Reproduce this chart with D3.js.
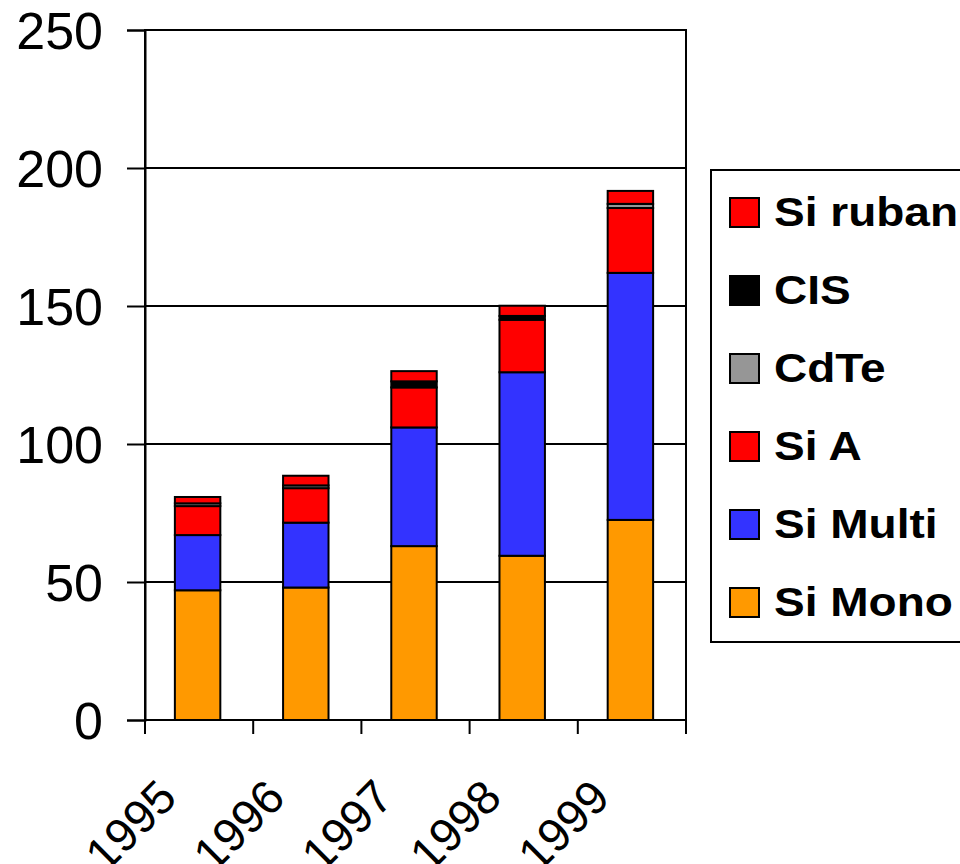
<!DOCTYPE html>
<html>
<head>
<meta charset="utf-8">
<script src="https://cdn.jsdelivr.net/npm/d3@7"></script>
<style>
  body { margin: 0; background: #fff; }
  text { font-family: "Liberation Sans", Arial, sans-serif; }
</style>
</head>
<body>
<script>
// values (MW per year)
var years   = ["1995", "1996", "1997", "1998", "1999"];
var siMono  = [47, 48, 63, 59.5, 72.5];
var siMulti = [20, 23.5, 43, 66.5, 89.5];
var siA     = [10.5, 12.5, 14.5, 19, 23.5];
var cdte    = [1, 1, 0, 0, 1.5];
var cis     = [0, 0, 2.2, 1.4, 0];
var siRuban = [2.3, 3.5, 3.7, 3.7, 4.7];
var yTicks  = [0, 50, 100, 150, 200, 250];

var keys   = ["Si Mono", "Si Multi", "Si A", "CdTe", "CIS", "Si ruban"];
var series = [siMono, siMulti, siA, cdte, cis, siRuban];
var colors = ["#ff9900", "#3333ff", "#ff0000", "#969696", "#000000", "#ff0000"];

// build rows for d3.stack
var rows = years.map(function(y, i) {
    var r = {year: y};
    keys.forEach(function(k, j) { r[k] = series[j][i]; });
    return r;
});

var margin = {top: 30, right: 274, bottom: 144, left: 145},
    width = 960 - margin.left - margin.right,
    height = 864 - margin.top - margin.bottom;

var svg = d3.select("body").append("svg")
    .attr("width", 960)
    .attr("height", 864);
var g = svg.append("g")
    .attr("transform", "translate(" + margin.left + "," + margin.top + ")");

var x = d3.scaleBand().domain(years).range([-1.5, width - 1.5]).paddingInner(0.58).paddingOuter(0.29);
var xb = d3.scaleBand().domain(years).range([0, width]); // for tick positions
var y = d3.scaleLinear().domain([0, 250]).range([height, 0]);

// gridlines
g.selectAll(".grid").data(yTicks.slice(1, 5)).enter().append("line")
    .attr("x1", 0).attr("x2", width)
    .attr("y1", function(d) { return y(d); })
    .attr("y2", function(d) { return y(d); })
    .style("stroke", "#000").style("stroke-width", 2);

// plot border
g.append("rect")
    .attr("x", 0).attr("y", 0)
    .attr("width", width).attr("height", height)
    .style("fill", "none").style("stroke", "#000").style("stroke-width", 2);

var stack = d3.stack().keys(keys)(rows);

g.selectAll(".layer").data(stack).enter().append("g")
    .style("fill", function(d, i) { return colors[i]; })
  .selectAll("rect").data(function(d) { return d; }).enter().append("rect")
    .attr("x", function(d) { return x(d.data.year); })
    .attr("width", x.bandwidth())
    .attr("y", function(d) { return y(d[1]); })
    .attr("height", function(d) { return y(d[0]) - y(d[1]); })
    .style("stroke", "#000").style("stroke-width", 2);

// y axis
var yAxis = g.append("g")
    .call(d3.axisLeft(y).tickValues(yTicks).tickSize(18).tickPadding(24));
yAxis.select(".domain").style("stroke-width", 2);
yAxis.selectAll(".tick line").style("stroke-width", 2);
yAxis.selectAll("text")
    .style("font-size", "52px")
    .style("font-family", "Liberation Sans, Arial, sans-serif")
    .attr("dy", "0.36em");

// x axis (ticks at category boundaries)
var bounds = years.map(function(d) { return xb(d); }).concat([width]);
g.append("line")
    .attr("x1", 0).attr("x2", width)
    .attr("y1", height).attr("y2", height)
    .style("stroke", "#000").style("stroke-width", 2);
g.selectAll(".xtick").data(bounds).enter().append("line")
    .attr("x1", function(d) { return d; }).attr("x2", function(d) { return d; })
    .attr("y1", height).attr("y2", height + 14)
    .style("stroke", "#000").style("stroke-width", 2);
g.selectAll(".xlab").data(years).enter().append("text")
    .attr("transform", function(d) {
        return "translate(" + (xb(d) + xb.bandwidth() / 2 - 20) + "," + (height + 80) + ") rotate(-45)";
    })
    .attr("text-anchor", "end")
    .style("font-size", "47px")
    .text(function(d) { return d; });

// legend
var legend = svg.append("g").attr("transform", "translate(711,170)");
legend.append("rect")
    .attr("x", 0).attr("y", 0).attr("width", 270).attr("height", 472)
    .style("fill", "#fff").style("stroke", "#000").style("stroke-width", 2);
var legendKeys = keys.slice().reverse();
var legendCols = colors.slice().reverse();
legendKeys.forEach(function(k, i) {
    var row = legend.append("g").attr("transform", "translate(0," + (42 + i * 78) + ")");
    row.append("rect")
        .attr("x", 19).attr("y", -14).attr("width", 29).attr("height", 29)
        .style("fill", legendCols[i]).style("stroke", "#000").style("stroke-width", 2);
    // text in the picture is a bit wider than the font, stretch it
    row.append("text")
        .attr("transform", "translate(63,0) scale(1.15,1)")
        .attr("dy", "0.36em")
        .style("font-size", "40px").style("font-weight", "bold")
        .text(k);
});
</script>
</body>
</html>
